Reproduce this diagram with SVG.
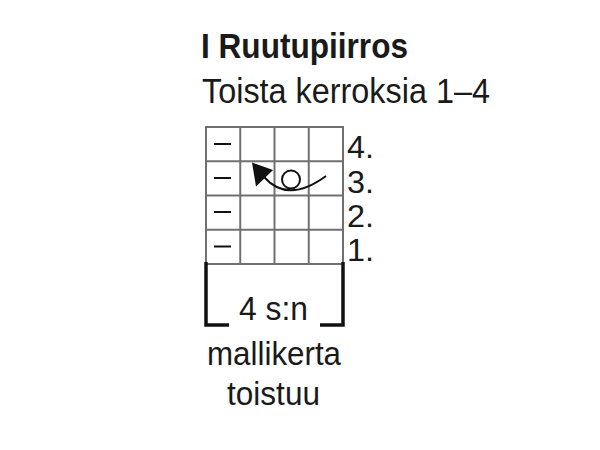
<svg xmlns="http://www.w3.org/2000/svg" width="600" height="450" viewBox="0 0 600 450">
<style>
.t{font-family:"Liberation Sans",Arial,sans-serif;fill:#1a1a1a}
.row{font-size:30.5px}
.grid{stroke:#707070;stroke-width:2;fill:none}
.dash{stroke:#111;stroke-width:2}
.br{stroke:#111;stroke-width:3.5;fill:none;stroke-linecap:butt}
</style>
<rect width="600" height="450" fill="#fff"/>
<g id="title">
<text class="t" x="201" y="58" font-size="35" font-weight="bold" textLength="207" lengthAdjust="spacingAndGlyphs">I Ruutupiirros</text>
<text class="t" x="202" y="103" font-size="35" textLength="288" lengthAdjust="spacingAndGlyphs">Toista kerroksia 1–4</text>
</g>
<g id="chart">
<g class="grid">
<rect x="206" y="127" width="137" height="137"/>
<line x1="240.25" y1="127" x2="240.25" y2="264"/>
<line x1="274.5" y1="127" x2="274.5" y2="264"/>
<line x1="308.75" y1="127" x2="308.75" y2="264"/>
<line x1="206" y1="161.25" x2="343" y2="161.25"/>
<line x1="206" y1="195.5" x2="343" y2="195.5"/>
<line x1="206" y1="229.75" x2="343" y2="229.75"/>
</g>
<g class="dash">
<line x1="214" y1="144" x2="231" y2="144"/>
<line x1="214" y1="178" x2="231" y2="178"/>
<line x1="214" y1="212" x2="231" y2="212"/>
<line x1="214" y1="246.5" x2="231" y2="246.5"/>
</g>
<g id="symbol">
<circle cx="291" cy="179.5" r="9" fill="none" stroke="#111" stroke-width="2"/>
<path d="M264 177 Q288 204 326 176" fill="none" stroke="#111" stroke-width="2"/>
<polygon points="252,162.5 256,186.5 273,170" fill="#111"/>
</g>
</g>
<g id="rows">
<text class="t row" x="347" y="158" textLength="27" lengthAdjust="spacingAndGlyphs">4.</text>
<text class="t row" x="347" y="192.5" textLength="27" lengthAdjust="spacingAndGlyphs">3.</text>
<text class="t row" x="347" y="226.5" textLength="27" lengthAdjust="spacingAndGlyphs">2.</text>
<text class="t row" x="347" y="261" textLength="27" lengthAdjust="spacingAndGlyphs">1.</text>
</g>
<g id="repeat">
<path class="br" d="M206 262 V325 H229"/>
<path class="br" d="M343 262 V325 H320"/>
<text class="t" x="239" y="320" font-size="33" textLength="69" lengthAdjust="spacingAndGlyphs">4 s:n</text>
<text class="t" x="207" y="365" font-size="33" textLength="134" lengthAdjust="spacingAndGlyphs">mallikerta</text>
<text class="t" x="227" y="405" font-size="33" textLength="93" lengthAdjust="spacingAndGlyphs">toistuu</text>
</g>
</svg>
